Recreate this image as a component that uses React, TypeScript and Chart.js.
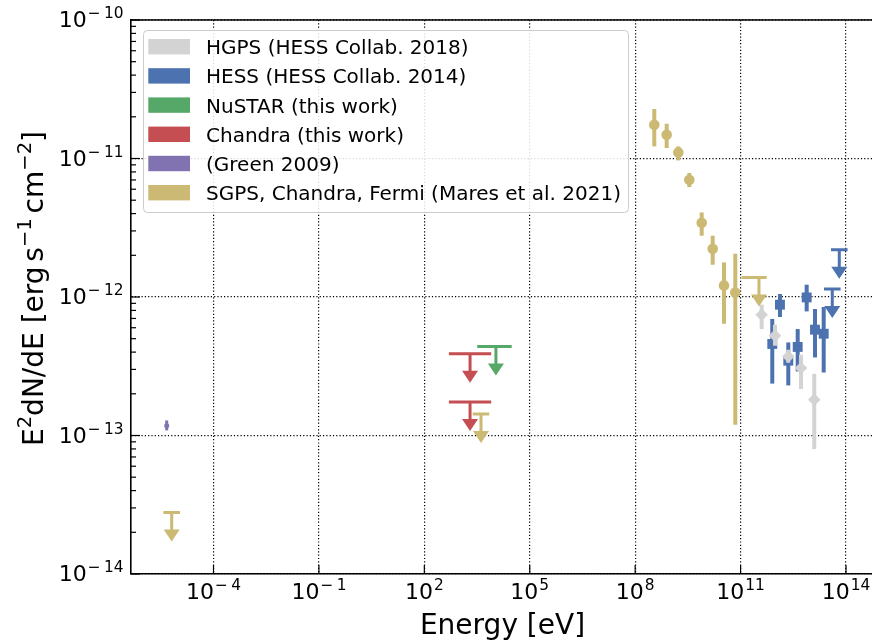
import React, { useEffect, useRef } from 'react';
import { Chart, registerables } from 'chart.js';

Chart.register(...registerables);

const FONT = '"DejaVu Sans", "Liberation Sans", sans-serif';

// ---- axes (log10 of limits) ----
const X_LOG_MIN = -6.348;
const X_LOG_MAX = 14.74;
const Y_LOG_MIN = -14;
const Y_LOG_MAX = -10;
const X_TICK_EXP = [-4, -1, 2, 5, 8, 11, 14];
const Y_TICK_EXP = [-14, -13, -12, -11, -10];

// ---- HGPS (HESS Collab. 2018) ----
const HGPS_E = [3.98e11, 9.53e11, 2.28e12, 5.24e12, 1.25e13];
const HGPS_F = [7.45e-13, 5.26e-13, 3.72e-13, 3.07e-13, 1.81e-13];
const HGPS_LO = [5.87e-13, 4.45e-13, 3.35e-13, 2.17e-13, 7.99e-14];
const HGPS_HI = [8.8e-13, 6.31e-13, 4.16e-13, 3.83e-13, 2.79e-13];

// ---- HESS (HESS Collab. 2014) ----
const HESS_E = [7.98e11, 1.32e12, 2.28e12, 4.22e12, 7.6e12, 1.31e13, 2.32e13];
const HESS_F = [4.58e-13, 8.8e-13, 3.47e-13, 4.36e-13, 9.93e-13, 5.81e-13, 5.43e-13];
const HESS_LO = [2.37e-13, 7.17e-13, 2.3e-13, 2.9e-13, 7.87e-13, 3.66e-13, 2.85e-13];
const HESS_HI = [6.94e-13, 1.051e-12, 4.7e-13, 5.87e-13, 1.227e-12, 8.19e-13, 8.47e-13];
const HESS_UL_E = [4.07e13, 6.44e13];
const HESS_UL_F = [1.142e-12, 2.195e-12];

// ---- NuSTAR (this work), upper limit ----
const NUSTAR_UL_E = [1.09e4];
const NUSTAR_UL_F = [4.4e-13];
const NUSTAR_UL_ELO = [3.2e3];
const NUSTAR_UL_EHI = [3.06e4];

// ---- Chandra (this work), upper limits ----
const CHANDRA_UL_E = [2.0e3, 2.0e3];
const CHANDRA_UL_F = [3.9e-13, 1.745e-13];
const CHANDRA_UL_ELO = [5.0e2, 5.0e2];
const CHANDRA_UL_EHI = [8.0e3, 8.0e3];

// ---- (Green 2009) ----
const GREEN_E = [4.66e-6];
const GREEN_F = [1.177e-13];
const GREEN_LO = [1.089e-13];
const GREEN_HI = [1.285e-13];

// ---- SGPS, Chandra, Fermi (Mares et al. 2021) ----
const MARES_E = [3.5e8, 7.89e8, 1.69e9, 3.47e9, 7.82e9, 1.61e10, 3.37e10, 7.07e10];
const MARES_F = [1.754e-11, 1.486e-11, 1.107e-11, 7.03e-12, 3.44e-12, 2.23e-12, 1.213e-12, 1.079e-12];
const MARES_LO = [1.223e-11, 1.191e-11, 9.69e-12, 6.22e-12, 2.77e-12, 1.71e-12, 6.41e-13, 1.197e-13];
const MARES_HI = [2.276e-11, 1.783e-11, 1.223e-11, 7.86e-12, 4.08e-12, 2.77e-12, 1.778e-12, 2.054e-12];
const MARES_UL_E = [6.46e-6, 4.1e3, 3.34e11];
const MARES_UL_F = [2.78e-14, 1.429e-13, 1.384e-12];
const MARES_UL_ELO: (number | null)[] = [null, null, 1.07e11];
const MARES_UL_EHI: (number | null)[] = [null, null, 5.53e11];

// upper-limit arrow extends down to F * UL_TIP
const UL_TIP = 0.617;

// ---- legend ----
const LEGEND_LABELS = [
  'HGPS (HESS Collab. 2018)',
  'HESS (HESS Collab. 2014)',
  'NuSTAR (this work)',
  'Chandra (this work)',
  '(Green 2009)',
  'SGPS, Chandra, Fermi (Mares et al. 2021)',
];
const C_GRAY = '#d3d3d3';
const C_BLUE = '#4c72b0';
const C_GREEN = '#55a868';
const C_RED = '#c44e52';
const C_PURPLE = '#8172b2';
const C_GOLD = '#ccb974';
const LEGEND_COLORS = [C_GRAY, C_BLUE, C_GREEN, C_RED, C_PURPLE, C_GOLD];

const toPts = (E: number[], F: number[]) => E.map((e, i) => ({ x: e, y: F[i] }));

function drawPow(ctx: CanvasRenderingContext2D, exp: number, x: number, y: number, align: string, size: number) {
  const base = '10';
  const supSize = size * 0.7;
  const neg = exp < 0;
  const digits = String(Math.abs(exp));
  ctx.font = `${size}px ${FONT}`;
  const wb = ctx.measureText(base).width + 1;
  ctx.font = `${supSize}px ${FONT}`;
  const wm = neg ? ctx.measureText('\u2212').width + supSize * 0.22 : 0;
  const wd = ctx.measureText(digits).width;
  const total = wb + wm + wd;
  const x0 = align === 'center' ? x - total / 2 : align === 'right' ? x - total : x;
  ctx.textAlign = 'left';
  ctx.textBaseline = 'alphabetic';
  ctx.font = `${size}px ${FONT}`;
  ctx.fillText(base, x0, y);
  ctx.font = `${supSize}px ${FONT}`;
  const sy = y - size * 0.4;
  if (neg) ctx.fillText('\u2212', x0 + wb, sy);
  ctx.fillText(digits, x0 + wb + wm, sy);
}

type Part = { t: string; sup?: boolean; gap?: number };
function drawParts(ctx: CanvasRenderingContext2D, parts: Part[], cx: number, y: number, size: number) {
  const supSize = size * 0.7;
  const widths = parts.map((p) => {
    if (p.gap) return p.gap * size;
    ctx.font = `${p.sup ? supSize : size}px ${FONT}`;
    return ctx.measureText(p.t).width;
  });
  const total = widths.reduce((a, b) => a + b, 0);
  let x = cx - total / 2;
  ctx.textAlign = 'left';
  ctx.textBaseline = 'alphabetic';
  parts.forEach((p, i) => {
    if (!p.gap) {
      ctx.font = `${p.sup ? supSize : size}px ${FONT}`;
      ctx.fillText(p.t, x, p.sup ? y - size * 0.42 : y);
    }
    x += widths[i];
  });
}

const errPlugin = {
  id: 'errbars',
  beforeDatasetDraw(chart: any, args: any) {
    const ds = chart.data.datasets[args.index];
    const xs = chart.scales.x;
    const ys = chart.scales.y;
    const ctx: CanvasRenderingContext2D = chart.ctx;
    ctx.save();
    ctx.strokeStyle = ds.color;
    ctx.fillStyle = ds.color;
    ctx.lineCap = 'butt';
    if (ds.kind === 'pts') {
      ctx.lineWidth = ds.errWidth;
      ds.data.forEach((p: any, i: number) => {
        const px = xs.getPixelForValue(p.x);
        ctx.beginPath();
        ctx.moveTo(px, ys.getPixelForValue(ds.lo[i]));
        ctx.lineTo(px, ys.getPixelForValue(ds.hi[i]));
        ctx.stroke();
      });
    } else if (ds.kind === 'ul') {
      const triW = 16;
      const triH = 12;
      const cap = 8.3;
      ctx.lineWidth = 3;
      ds.data.forEach((p: any, i: number) => {
        const px = xs.getPixelForValue(p.x);
        const py = ys.getPixelForValue(p.y);
        const tip = ys.getPixelForValue(p.y * UL_TIP);
        const lo = ds.elo && ds.elo[i] != null ? xs.getPixelForValue(ds.elo[i]) : px - cap;
        const hi = ds.ehi && ds.ehi[i] != null ? xs.getPixelForValue(ds.ehi[i]) : px + cap;
        ctx.beginPath();
        ctx.moveTo(lo, py);
        ctx.lineTo(hi, py);
        ctx.moveTo(px, py);
        ctx.lineTo(px, tip - triH + 1);
        ctx.stroke();
        ctx.beginPath();
        ctx.moveTo(px - triW / 2, tip - triH);
        ctx.lineTo(px + triW / 2, tip - triH);
        ctx.lineTo(px, tip);
        ctx.closePath();
        ctx.fill();
      });
    }
    ctx.restore();
  },
};

const decorPlugin = {
  id: 'decor',
  beforeDraw(chart: any) {
    const ctx: CanvasRenderingContext2D = chart.ctx;
    ctx.save();
    ctx.fillStyle = '#ffffff';
    ctx.fillRect(0, 0, chart.width, chart.height);
    ctx.restore();
  },
  afterDraw(chart: any) {
    const ctx: CanvasRenderingContext2D = chart.ctx;
    const ca = chart.chartArea;
    const xs = chart.scales.x;
    const ys = chart.scales.y;
    ctx.save();
    ctx.strokeStyle = '#000';
    // top spine
    ctx.lineWidth = 1.6;
    ctx.beginPath();
    ctx.moveTo(ca.left, ca.top);
    ctx.lineTo(ca.right, ca.top);
    ctx.stroke();
    // y ticks (inward)
    ctx.lineWidth = 1.2;
    for (let e = Y_LOG_MIN; e <= Y_LOG_MAX; e++) {
      for (let k = 1; k <= 9; k++) {
        const v = k * Math.pow(10, e);
        if (v < Math.pow(10, Y_LOG_MIN) * 0.999 || v > Math.pow(10, Y_LOG_MAX) * 1.001) continue;
        const py = ys.getPixelForValue(v);
        const len = k === 1 ? 9 : 5;
        ctx.beginPath();
        ctx.moveTo(ca.left, py);
        ctx.lineTo(ca.left + len, py);
        ctx.stroke();
      }
    }
    // x ticks (inward)
    X_TICK_EXP.forEach((e) => {
      const px = xs.getPixelForValue(Math.pow(10, e));
      ctx.beginPath();
      ctx.moveTo(px, ca.bottom);
      ctx.lineTo(px, ca.bottom - 9);
      ctx.stroke();
    });
    // tick labels
    ctx.fillStyle = '#000';
    Y_TICK_EXP.forEach((e) => {
      const py = ys.getPixelForValue(Math.pow(10, e));
      drawPow(ctx, e, ca.left - 7.5, py + 7, 'right', 22);
    });
    X_TICK_EXP.forEach((e) => {
      const px = xs.getPixelForValue(Math.pow(10, e));
      drawPow(ctx, e, px, ca.bottom + 25, 'center', 22);
    });
    // axis titles
    drawParts(ctx, [{ t: 'Energy [eV]' }], 502.5, 633.5, 28);
    ctx.save();
    ctx.translate(43, 288.5);
    ctx.rotate(-Math.PI / 2);
    drawParts(
      ctx,
      [
        { t: 'E' },
        { t: '2', sup: true },
        { t: 'dN/dE [erg' },
        { t: '', gap: 0.17 },
        { t: 's' },
        { t: '\u22121', sup: true },
        { t: '', gap: 0.17 },
        { t: 'cm' },
        { t: '\u22122', sup: true },
        { t: ']' },
      ],
      0,
      0,
      28
    );
    ctx.restore();
    // legend
    const lx = 143.5, ly = 30.5, lw = 485, lh = 182;
    ctx.beginPath();
    (ctx as any).roundRect(lx, ly, lw, lh, 4);
    ctx.fillStyle = 'rgba(255,255,255,0.85)';
    ctx.fill();
    ctx.strokeStyle = '#cccccc';
    ctx.lineWidth = 1;
    ctx.stroke();
    LEGEND_LABELS.forEach((lab, i) => {
      const cy = 46.7 + i * 29.2;
      ctx.fillStyle = LEGEND_COLORS[i];
      ctx.fillRect(148.3, cy - 7.7, 41.7, 15.4);
      ctx.fillStyle = '#000';
      ctx.font = `20px ${FONT}`;
      ctx.textAlign = 'left';
      ctx.textBaseline = 'alphabetic';
      ctx.fillText(lab, 206, cy + 7.4);
    });
    ctx.restore();
  },
};

function ptsDs(label: string, E: number[], F: number[], lo: number[], hi: number[], color: string, style: string, r: number, errWidth: number) {
  return {
    label,
    kind: 'pts',
    data: toPts(E, F),
    lo,
    hi,
    color,
    errWidth,
    backgroundColor: color,
    borderColor: color,
    pointBackgroundColor: color,
    pointBorderColor: color,
    pointBorderWidth: 0,
    pointStyle: style,
    pointRadius: r,
    pointHoverRadius: r,
    showLine: false,
  };
}

function ulDs(label: string, E: number[], F: number[], elo: (number | null)[] | null, ehi: (number | null)[] | null, color: string) {
  return {
    label,
    kind: 'ul',
    data: toPts(E, F),
    elo,
    ehi,
    color,
    backgroundColor: color,
    borderColor: color,
    pointRadius: 0,
    pointHoverRadius: 0,
    showLine: false,
  };
}

export default function App() {
  const ref = useRef<HTMLCanvasElement>(null);
  useEffect(() => {
    if (!ref.current) return;
    const datasets: any[] = [
      ptsDs(LEGEND_LABELS[5], MARES_E, MARES_F, MARES_LO, MARES_HI, C_GOLD, 'circle', 5.3, 4),
      ulDs(LEGEND_LABELS[5], MARES_UL_E, MARES_UL_F, MARES_UL_ELO, MARES_UL_EHI, C_GOLD),
      ptsDs(LEGEND_LABELS[4], GREEN_E, GREEN_F, GREEN_LO, GREEN_HI, C_PURPLE, 'circle', 2.5, 3),
      ulDs(LEGEND_LABELS[3], CHANDRA_UL_E, CHANDRA_UL_F, CHANDRA_UL_ELO, CHANDRA_UL_EHI, C_RED),
      ulDs(LEGEND_LABELS[2], NUSTAR_UL_E, NUSTAR_UL_F, NUSTAR_UL_ELO, NUSTAR_UL_EHI, C_GREEN),
      ptsDs(LEGEND_LABELS[0], HGPS_E, HGPS_F, HGPS_LO, HGPS_HI, C_GRAY, 'rectRot', 6.3, 4),
      ptsDs(LEGEND_LABELS[1], HESS_E, HESS_F, HESS_LO, HESS_HI, C_BLUE, 'rect', 7, 4),
      ulDs(LEGEND_LABELS[1], HESS_UL_E, HESS_UL_F, null, null, C_BLUE),
    ];
    const gridCommon = {
      color: '#000000',
      lineWidth: 1.2,
      drawTicks: false,
      tickLength: 0,
    };
    const borderCommon = { display: true, color: '#000000', width: 1.6, dash: [1.2, 2.1] };
    const chart = new Chart(ref.current, {
      type: 'scatter',
      data: { datasets },
      options: {
        responsive: false,
        animation: false,
        devicePixelRatio: 1,
        events: [],
        layout: { autoPadding: false, padding: { top: 20, left: 0, right: 0, bottom: 0 } },
        plugins: { legend: { display: false }, tooltip: { enabled: false }, title: { display: false } },
        scales: {
          x: {
            type: 'logarithmic',
            position: 'bottom',
            bounds: 'data',
            min: Math.pow(10, X_LOG_MIN),
            max: Math.pow(10, X_LOG_MAX),
            ticks: { display: false },
            grid: gridCommon,
            border: borderCommon,
            afterBuildTicks: (s: any) => {
              s.ticks = X_TICK_EXP.map((e) => ({ value: Math.pow(10, e) }));
            },
            afterFit: (s: any) => {
              s.height = 68;
            },
          },
          y: {
            type: 'logarithmic',
            position: 'left',
            bounds: 'data',
            min: Math.pow(10, Y_LOG_MIN),
            max: Math.pow(10, Y_LOG_MAX),
            ticks: { display: false },
            grid: gridCommon,
            border: borderCommon,
            afterBuildTicks: (s: any) => {
              s.ticks = Y_TICK_EXP.map((e) => ({ value: Math.pow(10, e) }));
            },
            afterFit: (s: any) => {
              s.width = 131;
            },
          },
        },
      } as any,
      plugins: [errPlugin, decorPlugin],
    });
    return () => chart.destroy();
  }, []);
  return (
    <div style={{ position: 'fixed', left: 0, top: 0, width: 872, height: 642, background: '#fff', overflow: 'hidden' }}>
      <canvas ref={ref} width={872} height={642} style={{ display: 'block', width: 872, height: 642 }} />
    </div>
  );
}
